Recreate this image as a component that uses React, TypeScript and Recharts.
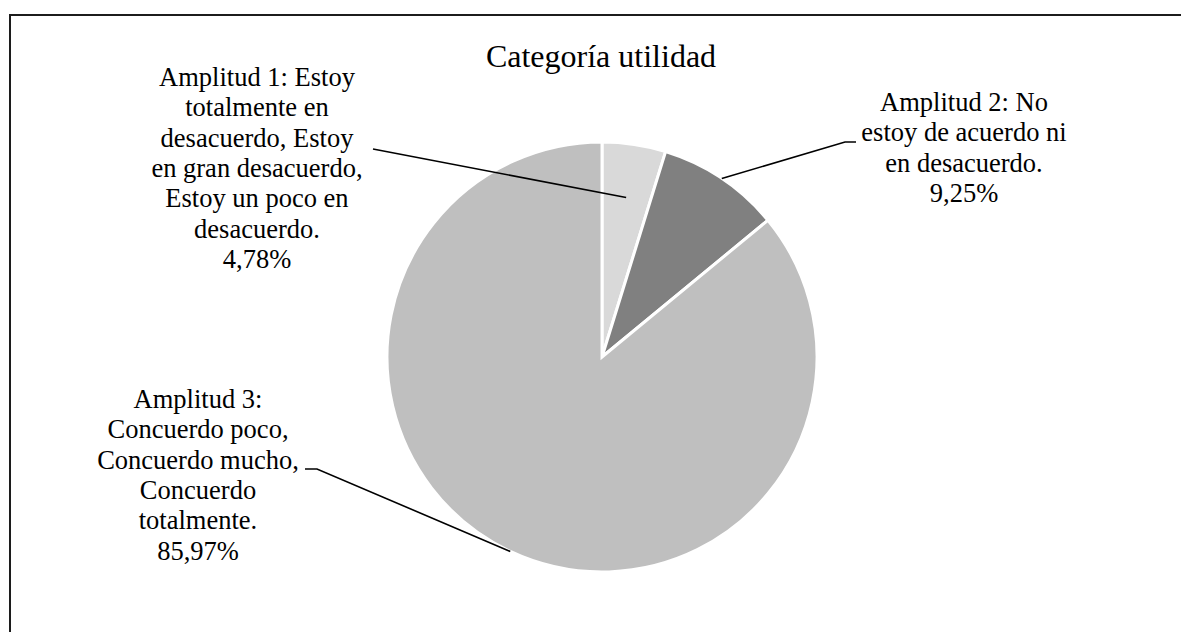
import { PieChart, Pie, Cell } from "recharts";

const categories = ["Amplitud 1", "Amplitud 2", "Amplitud 3"];
const values = [4.78, 9.25, 85.97];
const labelLines = [
  ["Amplitud 1: Estoy", "totalmente en", "desacuerdo, Estoy", "en gran desacuerdo,", "Estoy un poco en", "desacuerdo."],
  ["Amplitud 2: No", "estoy de acuerdo ni", "en desacuerdo."],
  ["Amplitud 3:", "Concuerdo poco,", "Concuerdo mucho,", "Concuerdo", "totalmente."],
];
const title = "Categoría utilidad";

const sliceColors = ["#d9d9d9", "#808080", "#bfbfbf"];
const FONT = "'Liberation Serif', 'Times New Roman', serif";
const LINE_H = 30.3;

// where each label block sits and how its leader line runs (layout only)
const labelPos = [
  { x: 257, y: 86, lead: [[373, 149]], tip: 0.75 },
  { x: 964, y: 111, lead: [[856, 142], [845, 142]], tip: 1 },
  { x: 198, y: 408, lead: [[305, 469], [317, 469]], tip: 1 },
];

const data = categories.map((name, i) => ({ name, value: values[i] }));

const RAD = Math.PI / 180;

const renderLabel = (props: any) => {
  const { cx, cy, midAngle, outerRadius, index } = props;
  const pos = labelPos[index];
  const r = outerRadius * pos.tip;
  const tx = cx + r * Math.cos(-midAngle * RAD);
  const ty = cy + r * Math.sin(-midAngle * RAD);
  const pts = [...pos.lead, [tx, ty]].map(p => p.join(",")).join(" ");
  const lines = [...labelLines[index], values[index].toFixed(2).replace(".", ",") + "%"];
  return (
    <g key={`lbl-${index}`}>
      <polyline points={pts} fill="none" stroke="#000" strokeWidth={1.6} />
      <text x={pos.x} y={pos.y} textAnchor="middle" fontFamily={FONT} fontSize={26.5} fill="#000">
        {lines.map((l, j) => (
          <tspan key={j} x={pos.x} y={pos.y + j * LINE_H}>{l}</tspan>
        ))}
      </text>
    </g>
  );
};

export default function App() {
  return (
    <div style={{ position: "fixed", left: 0, top: 0, width: 1181, height: 632, overflow: "hidden", background: "#fff" }}>
      <div
        style={{
          position: "absolute",
          left: 9,
          top: 14,
          width: 1200,
          height: 700,
          border: "2px solid #1c1c1c",
          boxSizing: "border-box",
        }}
      />
      <div
        style={{
          position: "absolute",
          left: 0,
          width: 1202,
          top: 40,
          textAlign: "center",
          fontFamily: FONT,
          fontSize: 32,
          lineHeight: 1,
          color: "#000",
        }}
      >
        {title}
      </div>
      <div style={{ position: "absolute", left: 0, top: 0 }}>
        <PieChart width={1181} height={632} margin={{ top: 0, right: 0, bottom: 0, left: 0 }}>
          <Pie
            data={data}
            dataKey="value"
            nameKey="name"
            cx={602}
            cy={357}
            outerRadius={215}
            startAngle={90}
            endAngle={-270}
            stroke="#ffffff"
            strokeWidth={3}
            label={renderLabel}
            labelLine={false}
            isAnimationActive={false}
          >
            {data.map((d, i) => (
              <Cell key={d.name} fill={sliceColors[i]} />
            ))}
          </Pie>
        </PieChart>
      </div>
    </div>
  );
}
